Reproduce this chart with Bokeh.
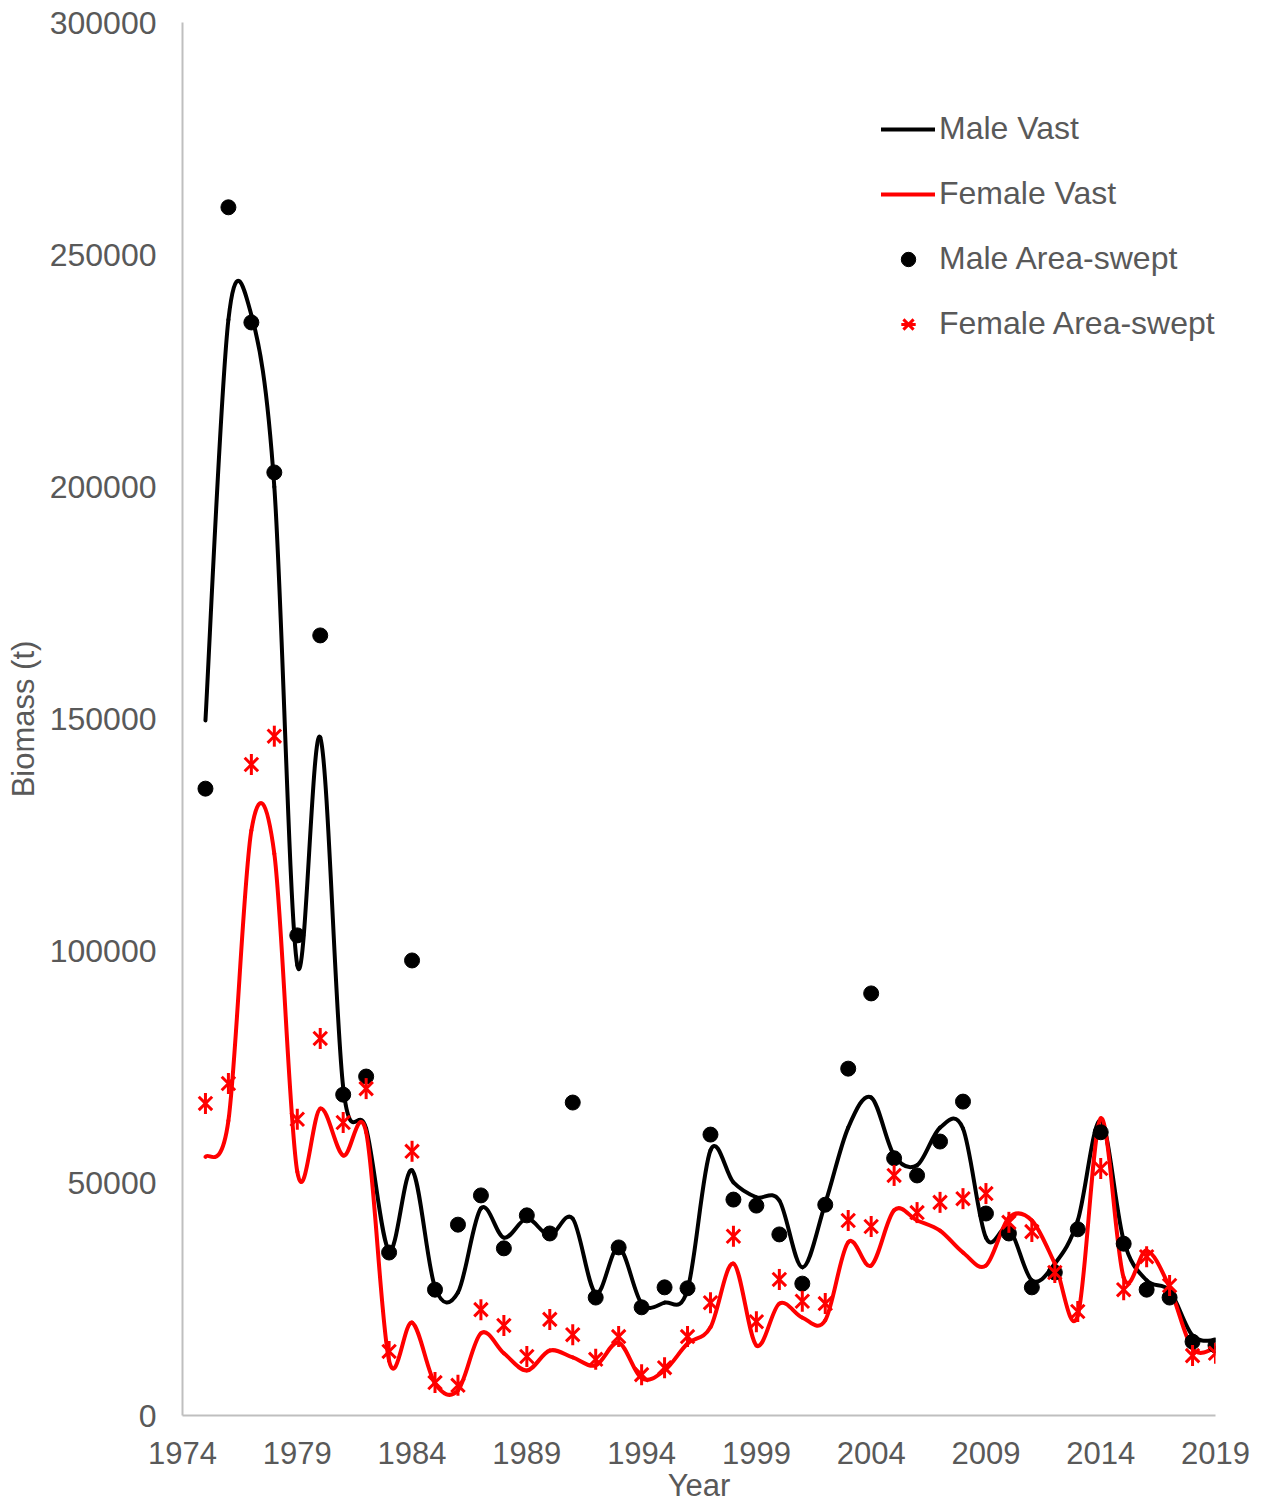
import numpy as np
from bokeh.plotting import figure
from bokeh.models import Range1d, FixedTicker, BasicTickFormatter, Legend, LegendItem
from bokeh.embed import file_html
from bokeh.resources import INLINE

years = list(range(1975, 2020))

male_vast = [149700, 236000, 237000, 200000, 97000, 146000, 70700, 61800, 35500, 52800,
             27600, 26500, 44600, 38300, 42400, 38800, 42400, 26300, 36200, 24100,
             24300, 27100, 57100, 50200, 47000, 46300, 31900, 45700, 62000, 68500,
             56000, 53900, 62000, 61800, 38300, 40300, 29100, 32700, 42000, 63500,
             37700, 29100, 26900, 17200, 16200]

female_vast = [55700, 63500, 126000, 121000, 52500, 66100, 56000, 61000, 11800, 20000,
               6900, 5400, 17700, 13400, 9700, 14000, 12500, 10800, 15700, 8000,
               9700, 15500, 19000, 32700, 15100, 24100, 21100, 20500, 37300, 32300,
               44200, 42000, 39800, 35100, 32300, 42600, 42000, 32700, 21500, 64000,
               29700, 35500, 27600, 14400, 14600]

male_swept = [135000, 260200, 235400, 203100, 103400, 168000, 69100, 73000, 35100, 98000,
              27100, 41100, 47400, 36000, 43100, 39200, 67400, 25400, 36200, 23300,
              27600, 27400, 60500, 46500, 45200, 39000, 28400, 45400, 74700, 90900,
              55400, 51700, 59000, 67600, 43500, 39200, 27600, 30800, 40100, 61000,
              37000, 27100, 25400, 15900, 15100]

female_swept = [67200, 71500, 140200, 146300, 63800, 81200, 63100, 70400, 13800, 56900,
                7100, 6500, 22800, 19400, 12700, 20700, 17400, 12100, 17000, 8800,
                10300, 17000, 24300, 38600, 20200, 29300, 24600, 24100, 42000, 40700,
                51700, 43700, 45900, 46700, 47800, 41600, 39600, 30800, 22400, 53200,
                27100, 34200, 28000, 12900, 13400]

x_ticks = [1974, 1979, 1984, 1989, 1994, 1999, 2004, 2009, 2014, 2019]
y_ticks = [0, 50000, 100000, 150000, 200000, 250000, 300000]

FONT = "Liberation Sans"
TXT = "#595959"
AXIS = "#bfbfbf"


def bezier_controls(xs, ys):
    """Control points for a smoothed line (Catmull-Rom style, like a spreadsheet smoothed line)."""
    n = len(xs)
    d = dict(x0=[], y0=[], x1=[], y1=[], cx0=[], cy0=[], cx1=[], cy1=[])
    for i in range(n - 1):
        a = i - 1 if i > 0 else i
        b = i + 2 if i + 2 < n else i + 1
        d["x0"].append(xs[i]); d["y0"].append(ys[i])
        d["x1"].append(xs[i + 1]); d["y1"].append(ys[i + 1])
        d["cx0"].append(xs[i] + (xs[i + 1] - xs[a]) / 6.0)
        d["cy0"].append(ys[i] + (ys[i + 1] - ys[a]) / 6.0)
        d["cx1"].append(xs[i + 1] - (xs[b] - xs[i]) / 6.0)
        d["cy1"].append(ys[i + 1] - (ys[b] - ys[i]) / 6.0)
    return d


p = figure(width=1255, height=1505, output_backend="svg", toolbar_location=None,
           x_range=Range1d(1974, 2019), y_range=Range1d(0, 300000),
           min_border_left=182, min_border_top=22, min_border_bottom=90, min_border_right=40)
p.outline_line_color = None
p.xgrid.visible = False
p.ygrid.visible = False
p.background_fill_color = "white"
p.border_fill_color = "white"

for ax in (p.xaxis[0], p.yaxis[0]):
    ax.axis_line_color = AXIS
    ax.axis_line_width = 2
    ax.major_tick_line_color = None
    ax.minor_tick_line_color = None
    ax.major_tick_out = 0
    ax.major_tick_in = 0
    ax.major_label_text_font = FONT
    ax.major_label_text_color = TXT
    ax.axis_label_text_font = FONT
    ax.axis_label_text_color = TXT
    ax.axis_label_text_font_style = "normal"

p.xaxis.ticker = FixedTicker(ticks=x_ticks)
p.yaxis.ticker = FixedTicker(ticks=y_ticks)
p.yaxis.formatter = BasicTickFormatter(use_scientific=False)
p.xaxis.major_label_text_font_size = "31px"
p.yaxis.major_label_text_font_size = "32px"
p.xaxis.axis_label = "Year"
p.yaxis.axis_label = "Biomass (t)"
p.xaxis.axis_label_text_font_size = "31px"
p.yaxis.axis_label_text_font_size = "31px"
p.xaxis.major_label_standoff = 26
p.xaxis.axis_label_standoff = 1
p.yaxis.major_label_standoff = 26
p.yaxis.axis_label_standoff = 6

# smoothed VAST lines
mb = bezier_controls(years, male_vast)
fb = bezier_controls(years, female_vast)
r_mline = p.bezier(source=mb, x0="x0", y0="y0", x1="x1", y1="y1", cx0="cx0", cy0="cy0",
                   cx1="cx1", cy1="cy1", line_color="black", line_width=4, line_cap="round")
r_fline = p.bezier(source=fb, x0="x0", y0="y0", x1="x1", y1="y1", cx0="cx0", cy0="cy0",
                   cx1="cx1", cy1="cy1", line_color="#ff0000", line_width=4, line_cap="round")

# area-swept points
r_male = p.scatter(years, male_swept, marker="circle", size=15, fill_color="black", line_color="black")
r_fx = p.scatter(years, female_swept, marker="x", size=19, line_color="#ff0000", line_width=3)
r_fd = p.scatter(years, female_swept, marker="dash", size=21, angle=np.pi / 2,
                 line_color="#ff0000", line_width=3)

legend = Legend(items=[
    LegendItem(label="Male Vast", renderers=[r_mline]),
    LegendItem(label="Female Vast", renderers=[r_fline]),
    LegendItem(label="Male Area-swept", renderers=[r_male]),
    LegendItem(label="Female Area-swept", renderers=[r_fx, r_fd]),
], location=(699, 1073))
legend.border_line_color = None
legend.background_fill_alpha = 0
legend.label_text_font = FONT
legend.label_text_font_size = "32px"
legend.label_text_color = TXT
legend.glyph_width = 54
legend.glyph_height = 36
legend.label_height = 36
legend.label_standoff = 4
legend.spacing = 28
legend.padding = 5
legend.margin = 0
p.add_layout(legend, "center")

open("out.html", "w").write(file_html(p, INLINE))
